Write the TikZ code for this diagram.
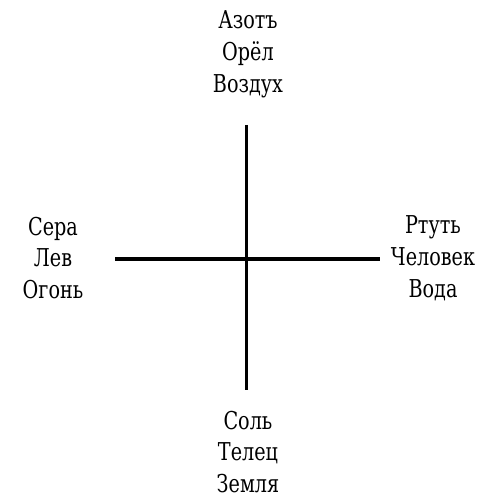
\documentclass[tikz,border=0pt]{standalone}
\usepackage{fontspec}
\setmainfont[FakeStretch=0.78]{DejaVu Serif}
\usepackage{tikz}

\tikzset{
  names/.style={align=center, font=\rmfamily\fontsize{14}{18.1}\selectfont, inner sep=0pt},
  arm/.style={line width=2.2pt}
}

\begin{document}
\begin{tikzpicture}[scale=1]
\useasboundingbox (0,0) rectangle (10.04,-10.08);

% ends of the cross
\coordinate (top) at (4.93,-2.50);
\coordinate (bottom) at (4.93,-7.80);
\coordinate (left) at (2.30,-5.18);
\coordinate (right) at (7.60,-5.18);

\draw[arm] (top) -- (bottom);
\draw[arm] (left) -- (right);

\node[names] (air) at (4.96,-1.08) {Азотъ\\Орёл\\Воздух};
\node[names] (fire) at (1.06,-5.16) {Сера\\Лев\\Огонь};
\node[names] (water) at (8.66,-5.16) {Ртуть\\Человек\\Вода};
\node[names] (earth) at (4.96,-9.04) {Соль\\Телец\\Земля};
\end{tikzpicture}
\end{document}
